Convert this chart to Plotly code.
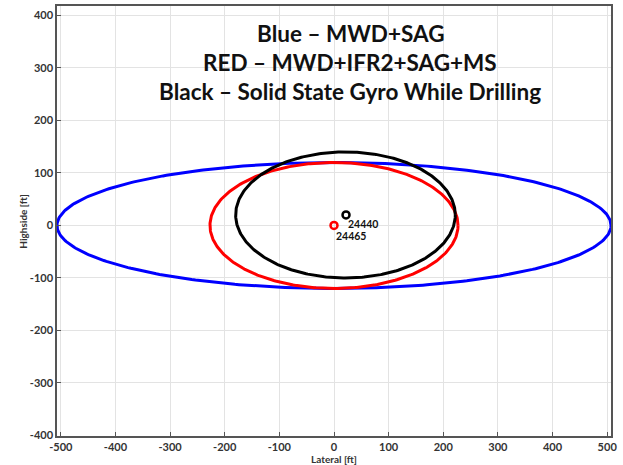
import numpy as np
import plotly.graph_objects as go

# Ellipse definitions (center x, center y, semi-axis lateral, semi-axis highside)
names = ["MWD+SAG", "MWD+IFR2+SAG+MS", "Solid State Gyro While Drilling"]
colors = ["#0000ff", "#ff0000", "#000000"]
center_x = [0, 0, 21]
center_y = [0, 0, 20]
semi_lat = [507, 227, 201]
semi_high = [120, 120, 120]

# Station markers
station_labels = ["24440", "24465"]
station_x = [22, 0]
station_y = [20, 0]
station_colors = ["#000000", "#ff0000"]

x_ticks = [-500, -400, -300, -200, -100, 0, 100, 200, 300, 400, 500]
y_ticks = [-400, -300, -200, -100, 0, 100, 200, 300, 400]

fig = go.Figure()
t = np.linspace(0, 2 * np.pi, 400)
for cx, cy, a, b, col, nm in zip(center_x, center_y, semi_lat, semi_high, colors, names):
    fig.add_trace(go.Scatter(x=cx + a * np.cos(t), y=cy + b * np.sin(t), mode="lines",
                             line=dict(color=col, width=3), name=nm, hoverinfo="skip"))

fig.add_trace(go.Scatter(x=station_x, y=station_y, mode="markers",
                         marker=dict(symbol="circle-open", size=7, color=station_colors,
                                     line=dict(width=2.5, color=station_colors)),
                         showlegend=False))
label_yshift = [-1, -3]
for lab, sx, sy, ys in zip(station_labels, station_x, station_y, label_yshift):
    fig.add_annotation(x=sx, y=sy, text="<b>" + lab + "</b>", showarrow=False,
                       xanchor="left", yanchor="top", xshift=0, yshift=ys,
                       font=dict(family="Lato, sans-serif", size=10.5, color="#111111"))

# Legend text box
fig.add_shape(type="rect", xref="paper", yref="paper", x0=0.171, x1=0.90, y0=0.758, y1=0.984,
              fillcolor="white", line=dict(width=0), layer="below")
legend_lines = ["Blue \u2013 MWD+SAG", "RED \u2013 MWD+IFR2+SAG+MS",
                "Black \u2013 Solid State Gyro While Drilling"]
legend_y = [0.937, 0.869, 0.802]
for txt, ly in zip(legend_lines, legend_y):
    fig.add_annotation(x=0.529, y=ly, xref="paper", yref="paper",
                       text="<b>" + txt + "</b>", showarrow=False, xanchor="center",
                       yanchor="middle",
                       font=dict(family="Lato, sans-serif", size=22.5, color="#111111"))

# Axis titles
fig.add_annotation(x=0.5, y=-0.054, xref="paper", yref="paper", text="<b>Lateral [ft]</b>",
                   showarrow=False, xanchor="center", yanchor="middle",
                   font=dict(family="Lato, sans-serif", size=10, color="#333333"))
fig.add_annotation(x=-0.062, y=0.5, xref="paper", yref="paper", text="<b>Highside [ft]</b>",
                   showarrow=False, xanchor="center", yanchor="middle", textangle=-90,
                   font=dict(family="Lato, sans-serif", size=10, color="#333333"))

axis_common = dict(showgrid=True, gridcolor="#e3e3e3", gridwidth=1, zeroline=False,
                   showline=True, linecolor="#555555", linewidth=1.5, mirror=True,
                   ticks="inside", ticklen=4, tickcolor="#555555", automargin=False,
                   tickfont=dict(family="Lato, sans-serif", size=11, color="#333333",
                                 weight="bold"))

fig.update_layout(
    width=623, height=465, showlegend=False,
    plot_bgcolor="white", paper_bgcolor="white",
    margin=dict(l=57, r=12, t=6, b=29),
    xaxis=dict(range=[-507, 507], tickvals=x_ticks, ticktext=[str(v) for v in x_ticks],
               **axis_common),
    yaxis=dict(range=[-401, 418], tickvals=y_ticks, ticktext=[str(v) for v in y_ticks],
               **axis_common),
)

fig.write_html("out.html", config={"displayModeBar": False},
               post_script="document.body.style.margin='0';document.body.style.overflow='hidden';")
